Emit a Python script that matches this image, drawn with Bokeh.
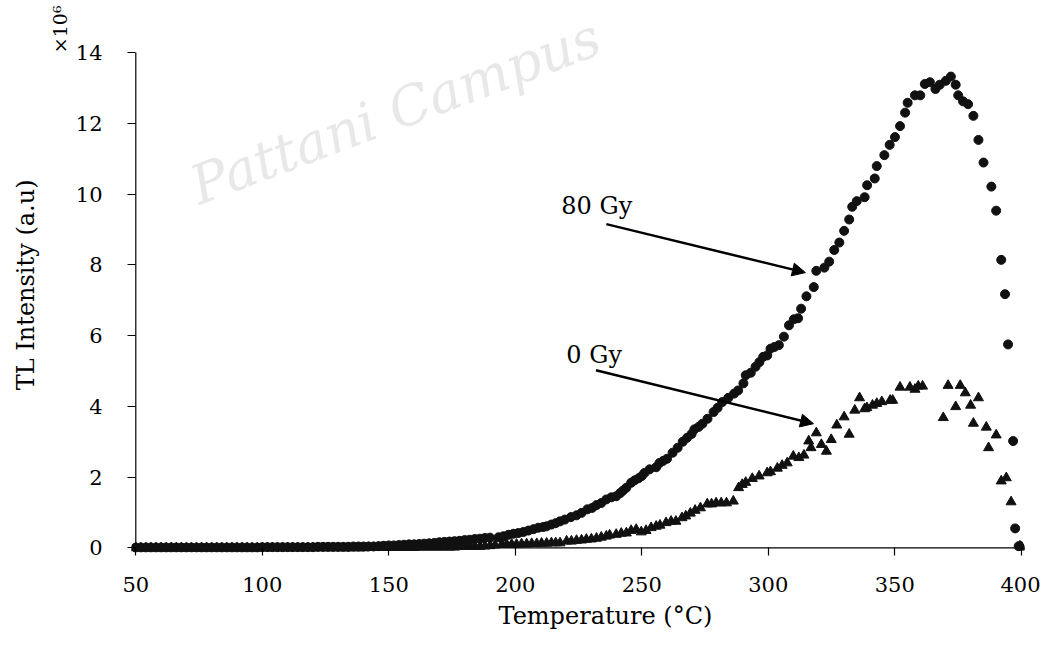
from bokeh.plotting import figure
from bokeh.models import Range1d, FixedTicker, Arrow, NormalHead, Label, Title
from bokeh.embed import file_html
from bokeh.resources import INLINE

# ---------------- data ----------------
x_ticks = [50, 100, 150, 200, 250, 300, 350, 400]
y_ticks = [0, 2, 4, 6, 8, 10, 12, 14]

temp_80gy = [50, 52, 54, 56, 58, 60, 62, 64, 66, 68, 70, 72, 74, 76, 78, 80, 82, 84, 86, 88, 90, 92, 94, 96, 98,
             100, 102, 104, 106, 108, 110, 112, 114, 116, 118, 120,
             122, 124, 126, 128, 130, 132, 134,
             136, 138, 140, 142, 144,
             146, 148, 150, 152, 154, 156, 158, 160, 162, 164, 166, 168, 170, 172, 174, 176, 178, 180, 182, 184, 186, 188, 190,
             193.4, 195.3, 197.3, 199.3, 201.2, 203.2, 205.2, 207.2, 209.1, 211.0,
             212.4, 214.3, 216.0, 217.7, 219.6, 222.0, 224.2, 226.2, 228.5, 230.4,
             232.1, 234.0, 236.0, 238.0, 239.9, 241.5, 242.6, 243.9, 245.8, 247.2,
             248.8, 250.0, 251.1, 253.1, 255.7, 257.0, 258.5, 260.0, 262.2, 264.2,
             266.2, 267.9, 269.7, 270.8, 272.5, 274.0, 276.0, 278.4, 280.0, 281.8,
             284.2, 286.5, 288.1, 290.2, 291.1, 293.1, 295.0, 296.5, 298.0, 299.6,
             300.9, 302.5, 304.2, 306.2, 308.2, 310.1, 311.8, 313.0, 315.1, 318.0,
             319.0, 322.2, 324.1, 326.1, 328.1, 330.0, 332.0, 333.2, 335.0, 338.1,
             339.1, 342.1, 342.9, 345.9, 348.0, 350.1, 352.1, 354.1, 355.1, 358.0,
             360.1, 361.9, 363.9, 366.1, 367.8, 370.2, 372.2, 374.1, 375.1, 377.0,
             379.0, 381.1, 383.1, 385.1, 388.2, 390.1, 392.1, 393.6, 394.8, 396.8,
             397.6, 399.0]
tl_80gy = [0.01, 0.01, 0.01, 0.01, 0.01, 0.01, 0.01, 0.01, 0.01, 0.01, 0.01, 0.01, 0.01, 0.01, 0.01, 0.01, 0.01,
           0.01, 0.01, 0.01, 0.01, 0.01, 0.01, 0.01, 0.01,
           0.02, 0.02, 0.02, 0.02, 0.02, 0.02, 0.02, 0.02, 0.02, 0.02, 0.02,
           0.03, 0.03, 0.03, 0.03, 0.03, 0.03, 0.03,
           0.04, 0.04, 0.04, 0.04, 0.04,
           0.05, 0.06, 0.07, 0.07, 0.08, 0.09, 0.10, 0.10, 0.11, 0.12, 0.13, 0.14, 0.16, 0.17, 0.18, 0.19, 0.20, 0.22,
           0.23, 0.25, 0.26, 0.28, 0.29,
           0.30, 0.33, 0.37, 0.40, 0.42, 0.45, 0.49, 0.53, 0.57, 0.59,
           0.61, 0.66, 0.70, 0.75, 0.80, 0.87, 0.92, 0.99, 1.09, 1.13,
           1.21, 1.27, 1.37, 1.43, 1.46, 1.55, 1.62, 1.70, 1.84, 1.91,
           1.97, 2.03, 2.12, 2.22, 2.28, 2.40, 2.46, 2.52, 2.69, 2.83,
           3.00, 3.11, 3.22, 3.35, 3.42, 3.51, 3.65, 3.84, 3.96, 4.12,
           4.24, 4.36, 4.45, 4.65, 4.88, 4.95, 5.12, 5.25, 5.40, 5.44,
           5.63, 5.68, 5.73, 5.97, 6.29, 6.46, 6.49, 6.76, 7.11, 7.37,
           7.83, 7.92, 8.09, 8.42, 8.63, 8.96, 9.28, 9.64, 9.80, 9.91,
           10.25, 10.44, 10.79, 11.10, 11.39, 11.61, 11.92, 12.30, 12.58, 12.79,
           12.79, 13.11, 13.16, 12.97, 13.09, 13.20, 13.32, 13.09, 12.79, 12.62,
           12.54, 12.21, 11.53, 10.89, 10.21, 9.53, 8.14, 7.17, 5.75, 3.02,
           0.55, 0.05]

temp_0gy = [50, 52, 54, 56, 58, 60, 62, 64, 66, 68, 70, 72, 74, 76, 78, 80, 82, 84, 86, 88, 90, 92, 94, 96, 98,
            100, 102, 104, 106, 108, 110, 112, 114, 116, 118, 120, 122, 124, 126, 128, 130, 132, 134, 136, 138, 140,
            142, 144, 146, 148, 150, 152, 154, 156, 158, 160,
            162, 164, 166, 168, 170, 172, 174, 176,
            178, 180, 182, 184, 186,
            188, 190, 192,
            194.7, 196.6, 198.6, 200.5, 202.5, 204.5, 206.5, 208.5, 210.4, 212.4,
            214.3, 216.0, 217.7, 220.3, 222.2, 224.2, 226.2, 228.1, 230.1, 232.1,
            234.0, 236.0, 237.3, 239.9, 241.9, 243.9, 245.8, 247.8, 249.8, 251.7,
            253.7, 255.7, 257.2, 259.6, 261.6, 263.5, 265.9, 267.4, 269.2, 271.1,
            273.2, 275.9, 277.6, 279.4, 281.4, 283.5, 286.2, 288.3, 289.7, 291.1,
            293.7, 296.4, 299.6, 300.9, 303.6, 305.5, 307.5, 309.9, 312.1, 314.1,
            316.0, 316.9, 319.0, 321.0, 323.0, 324.9, 327.1, 330.0, 332.0, 334.2,
            336.1, 338.1, 339.0, 341.2, 342.9, 344.9, 348.2, 349.2, 352.1, 356.0,
            358.0, 359.3, 361.0, 369.2, 371.1, 374.1, 375.9, 377.9, 380.0, 381.1,
            383.1, 386.2, 387.1, 390.1, 392.1, 394.1, 396.0, 399.5, 400.2]
tl_0gy = [0.0, 0.0, 0.0, 0.0, 0.0, 0.0, 0.0, 0.0, 0.0, 0.0, 0.0, 0.0, 0.0, 0.0, 0.0, 0.0, 0.0, 0.0, 0.0, 0.0,
          0.0, 0.0, 0.0, 0.0, 0.0, 0.0, 0.0, 0.0, 0.0, 0.0, 0.0, 0.0, 0.0, 0.0, 0.0, 0.0, 0.0, 0.0, 0.0, 0.0,
          0.0, 0.0, 0.0, 0.0, 0.0, 0.0,
          0.01, 0.01, 0.01, 0.01, 0.01, 0.01, 0.01, 0.01, 0.01, 0.01,
          0.02, 0.02, 0.02, 0.02, 0.02, 0.02, 0.02, 0.02,
          0.04, 0.04, 0.04, 0.04, 0.04,
          0.05, 0.06, 0.08,
          0.10, 0.10, 0.10, 0.10, 0.11, 0.11, 0.12, 0.12, 0.13, 0.13,
          0.14, 0.14, 0.14, 0.19, 0.19, 0.21, 0.22, 0.24, 0.25, 0.27,
          0.30, 0.33, 0.36, 0.38, 0.41, 0.42, 0.49, 0.52, 0.45, 0.49,
          0.57, 0.61, 0.64, 0.71, 0.75, 0.75, 0.85, 0.90, 0.98, 1.06,
          1.13, 1.24, 1.24, 1.27, 1.27, 1.27, 1.32, 1.70, 1.79, 1.85,
          1.96, 2.03, 2.12, 2.15, 2.25, 2.33, 2.40, 2.59, 2.55, 2.62,
          3.02, 2.83, 3.25, 2.92, 2.73, 3.06, 3.47, 3.70, 3.21, 3.89,
          4.24, 3.93, 3.96, 4.03, 4.08, 4.13, 4.17, 4.17, 4.54, 4.54,
          4.48, 4.57, 4.57, 3.68, 4.59, 3.99, 4.59, 4.38, 4.03, 3.52,
          4.24, 3.41, 2.83, 3.19, 1.89, 1.98, 1.30, 0.05, 0.02]

x_title = "Temperature (\u00b0C)"
y_title = "TL Intensity (a.u)"
y_scale_note = "\u00d710\u2076"

# ---------------- figure ----------------
SERIF = "DejaVu Serif"

p = figure(width=1040, height=639,
           x_range=Range1d(48.3, 401.3), y_range=Range1d(-0.13, 15.47),
           min_border_left=131, min_border_right=16, min_border_top=0, min_border_bottom=87,
           output_backend="svg", toolbar_location=None)
p.outline_line_color = None
p.xgrid.visible = False
p.ygrid.visible = False
p.background_fill_color = "white"
p.border_fill_color = "white"

for ax in (p.xaxis[0], p.yaxis[0]):
    ax.axis_line_color = None
    ax.major_tick_line_color = "black"
    ax.major_tick_line_width = 1.2
    ax.minor_tick_line_color = None
    ax.major_label_text_font = SERIF
    ax.major_label_text_font_size = "21px"
    ax.major_label_text_color = "black"

p.xaxis.ticker = FixedTicker(ticks=x_ticks, minor_ticks=[])
p.yaxis.ticker = FixedTicker(ticks=y_ticks, minor_ticks=[])
p.xaxis.major_tick_in = 5
p.xaxis.major_tick_out = 3
p.yaxis.major_tick_in = 4
p.yaxis.major_tick_out = 4
p.xaxis.major_label_standoff = 21
p.yaxis.major_label_standoff = 25

# axis titles (stacked outward from the axes)
p.add_layout(Title(text=y_scale_note, align="right", offset=5, standoff=4,
                   text_font=SERIF, text_font_size="19px", text_font_style="normal",
                   text_color="black"), "left")
p.add_layout(Title(text=y_title, align="right", offset=179, standoff=10,
                   text_font=SERIF, text_font_size="24px", text_font_style="normal",
                   text_color="black"), "left")
p.add_layout(Title(text=x_title, align="left", offset=367, standoff=10,
                   text_font=SERIF, text_font_size="24px", text_font_style="normal",
                   text_color="black"), "below")

# watermark (kept fully inside the canvas)
p.add_layout(Label(x=77, y=9.35, text="Pattani Campus", angle=0.36,
                   text_font=SERIF, text_font_style="italic",
                   text_font_size="54px", text_color="#e8e8e8", level="underlay"))

# axis lines along the tick extents
p.segment(x0=[x_ticks[0], x_ticks[0]], y0=[y_ticks[0], y_ticks[0]],
          x1=[x_ticks[-1], x_ticks[0]], y1=[y_ticks[0], y_ticks[-1]],
          line_color="black", line_width=1.2)

p.scatter(temp_80gy, tl_80gy, marker="circle", size=9,
          fill_color="#111111", line_color="#111111")
p.scatter(temp_0gy, tl_0gy, marker="triangle", size=10,
          fill_color="#111111", line_color="#111111")

head_kw = dict(size=13, fill_color="black", line_color="black", line_width=1)
p.add_layout(Arrow(end=NormalHead(**head_kw), x_start=236.0, y_start=9.15,
                   x_end=314.7, y_end=7.78, line_width=2.5, line_color="black"))
p.add_layout(Arrow(end=NormalHead(**head_kw), x_start=231.9, y_start=5.02,
                   x_end=317.9, y_end=3.51, line_width=2.5, line_color="black"))

p.add_layout(Label(x=218.2, y=9.65, text="80 Gy", text_font=SERIF,
                   text_font_size="24px", text_color="black",
                   text_align="left", text_baseline="alphabetic"))
p.add_layout(Label(x=220.2, y=5.45, text="0 Gy", text_font=SERIF,
                   text_font_size="24px", text_color="black",
                   text_align="left", text_baseline="alphabetic"))

open("out.html", "w").write(file_html(p, INLINE))
